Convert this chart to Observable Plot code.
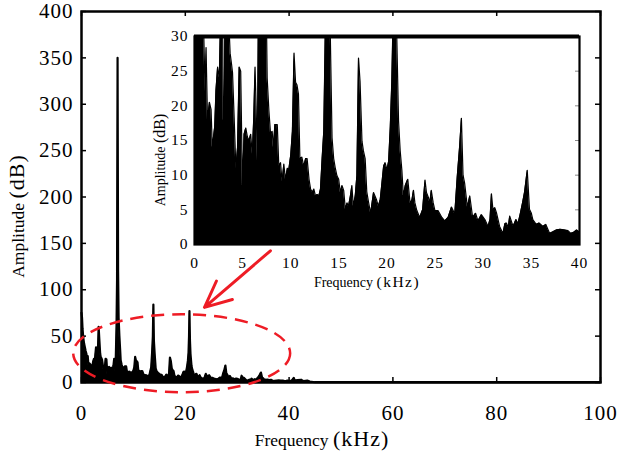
<!DOCTYPE html>
<html><head><meta charset="utf-8">
<script src="https://cdn.jsdelivr.net/npm/d3@7"></script>
<script src="https://cdn.jsdelivr.net/npm/@observablehq/plot@0.6"></script>
<style>
body{margin:0;background:#fff;}
#wrap{position:relative;width:620px;height:455px;overflow:hidden;}
#wrap svg{position:absolute;}
#wrap svg text{font-family:'Liberation Serif','Times New Roman',serif;}
[aria-label$="tick label"]{letter-spacing:1px;}
</style></head><body><div id="wrap"></div>
<script>
// Spectrum (frequency in kHz, amplitude in dB)
const freq = [0,0.1,0.2,0.35,0.5,0.65,0.8,0.95,1.1,1.2,1.35,1.55,1.72,1.85,1.96,2.1,2.23,2.4,2.58,2.68,2.8,2.92,3.0,3.1,3.16,3.3,3.45,3.6,3.7,3.85,3.95,4.12,4.3,4.47,4.64,4.8,4.98,5.15,5.33,5.5,5.67,5.84,6.0,6.15,6.29,6.4,6.53,6.63,6.75,6.85,6.95,7.05,7.15,7.3,7.45,7.55,7.73,7.9,8.07,8.2,8.35,8.6,8.76,8.94,9.1,9.28,9.45,9.65,9.8,10.0,10.17,10.34,10.5,10.65,10.8,10.95,11.15,11.35,11.55,11.7,11.9,12.06,12.25,12.4,12.57,12.75,12.92,13.09,13.26,13.43,13.6,13.75,13.85,13.95,14.1,14.29,14.46,14.63,14.8,14.98,15.15,15.32,15.5,15.67,15.85,16.0,16.2,16.35,16.5,16.7,16.87,17.04,17.2,17.4,17.55,17.73,17.9,18.07,18.3,18.6,18.9,19.1,19.3,19.45,19.65,19.8,20.0,20.17,20.34,20.5,20.62,20.72,20.8,20.9,21.0,21.2,21.37,21.54,21.7,21.9,22.16,22.4,22.6,22.75,22.9,23.1,23.4,23.7,23.95,24.1,24.3,24.45,24.6,24.8,24.98,25.3,25.5,25.7,26.0,26.35,26.7,27.04,27.3,27.55,27.73,27.9,28.07,28.35,28.6,28.9,29.2,29.45,29.8,30.17,30.5,30.7,30.85,31.0,31.2,31.37,31.7,32.05,32.25,32.4,32.6,32.75,33.1,33.4,33.6,33.8,34.1,34.3,34.57,34.8,35.0,35.15,35.5,35.8,36.2,36.5,36.9,37.2,37.6,38.0,38.4,38.8,39.1,39.45,39.7,40.0,40.5,40.9,41.1,41.6,42.3,42.8,43.5,44.0,45,100];
const amp = [75,70,58,48,42,38,34,31,22,28.4,18,20.5,19.5,14,15.3,17,22.2,25.6,24,31,38,32,17.8,20,33,60,45,31,27.6,26,24.8,18.3,10.9,14,25.6,25,8.5,15.9,16.8,15.5,15,15.9,13,18,25.6,20,12,32,62,110,350,120,70,50,35,24,19.3,16,16.3,14,17.3,17.3,11.3,11.8,9,11.6,9.4,11,10.8,12.9,16.3,27.6,23.4,23,21.7,12.4,12.6,11.3,12.4,12.4,9.4,8,7.5,8,7,7.2,7,8,12.4,16.3,32,50,84,45,31,15.4,12.4,11,9.9,9.4,7.5,8.5,7.8,5.1,6,5.5,7,8.5,5.5,7,9.9,26.9,23.5,14.9,13.5,12.4,7.6,6.2,4.5,7.5,6.5,5.5,6.5,8.5,11.3,11.8,10.8,12,16.9,23.5,32,50,77,45,31,17.8,13.5,10.8,7,8.5,9.4,5.9,6.5,7.8,6,4.9,3.9,5,9.3,7.5,6.8,6,7.8,6,4.9,4.9,4.4,3.9,3.4,3.9,5.4,4.4,9.8,14.2,18.2,10,8.8,5.4,7,3.9,4.5,3.4,4.3,3.6,2.6,3.6,7.3,5.1,5.3,4.6,2.6,1.6,3,3.1,2.5,4.1,2.6,3.6,3,4.1,6.1,7.6,10.7,5.1,4.5,3.6,2.9,3.1,2.6,2.9,1.6,1.8,2.1,2.2,2.1,2.0,1.6,1.8,2.1,1.8,2,5,2,2.5,3,1.5,2,1,0.3,0.3];

const mainXTicks = [0,20,40,60,80,100];
const mainYTicks = [0,50,100,150,200,250,300,350,400];
const insetXTicks = [0,5,10,15,20,25,30,35,40];
const insetYTicks = [0,5,10,15,20,25,30];

// Annotations (data units of the main chart)
const ellipseSpec = {cx: 19.4, cy: 31, rx: 20.9, ry: 42};
const arrowSpec = {x1: 36.4, y1: 142, x2: 23.7, y2: 81};

const data = freq.map((f, i) => ({f, a: amp[i]}));
const RED = "#ee1c25";
const FONT = "'Liberation Serif', 'Times New Roman', serif";

const main = Plot.plot({
  width: 620, height: 455,
  marginLeft: 81, marginRight: 20, marginTop: 11, marginBottom: 73,
  style: {fontFamily: FONT, background: "white", color: "black", overflow: "visible"},
  x: {domain: [0, 100], label: null},
  y: {domain: [0, 400], label: null},
  marks: [
    Plot.areaY(data, {x: "f", y: "a", fill: "black"}),
    Plot.lineY(data, {x: "f", y: "a", stroke: "black", strokeWidth: 2.2}),
    Plot.tickY(mainYTicks, {y: d => d, insetRight: 514, strokeWidth: 1.5}),
    Plot.tickY(mainYTicks, {y: d => d, insetLeft: 514, strokeWidth: 1.5}),
    Plot.tickX(mainXTicks, {x: d => d, insetTop: 366, strokeWidth: 1.5}),
    Plot.tickX(mainXTicks, {x: d => d, insetBottom: 366, strokeWidth: 1.5}),
    Plot.frame({strokeWidth: 2.5}),
    Plot.axisX(mainXTicks, {tickSize: 0, tickPadding: 23, fontSize: 21, label: null}),
    Plot.axisY(mainYTicks, {tickSize: 0, tickPadding: 8, fontSize: 21, label: null}),
    Plot.arrow([arrowSpec], {x1: "x1", y1: "y1", x2: "x2", y2: "y2", stroke: RED, strokeWidth: 3, headLength: 16, headAngle: 50})
  ]
});

const sx = main.scale("x"), sy = main.scale("y");
const msvg = d3.select(main);
msvg.append("ellipse")
  .attr("cx", sx.apply(ellipseSpec.cx))
  .attr("cy", sy.apply(ellipseSpec.cy))
  .attr("rx", sx.apply(ellipseSpec.cx + ellipseSpec.rx) - sx.apply(ellipseSpec.cx))
  .attr("ry", sy.apply(ellipseSpec.cy - ellipseSpec.ry) - sy.apply(ellipseSpec.cy))
  .attr("fill", "none").attr("stroke", RED).attr("stroke-width", 2.5)
  .attr("stroke-dasharray", "13 8");

const mx = msvg.append("text").attr("x", 322).attr("y", 446).attr("text-anchor", "middle")
  .attr("fill", "black");
mx.append("tspan").attr("font-size", 17.5).text("Frequency ");
mx.append("tspan").attr("font-size", 22).attr("letter-spacing", 1).text("(kHz)");

const my = msvg.append("text").attr("transform", "translate(24,216) rotate(-90)").attr("text-anchor", "middle")
  .attr("fill", "black");
my.append("tspan").attr("font-size", 17.5).text("Amplitude ");
my.append("tspan").attr("font-size", 22).attr("letter-spacing", 1).text("(dB)");

const inset = Plot.plot({
  width: 470, height: 285,
  marginLeft: 64, marginRight: 21, marginTop: 16, marginBottom: 61,
  style: {fontFamily: FONT, background: "transparent", color: "black", overflow: "visible"},
  x: {domain: [0, 40], label: null},
  y: {domain: [0, 30], label: null},
  marks: [
    Plot.areaY(data, {x: "f", y: "a", fill: "black", clip: true}),
    Plot.lineY(data, {x: "f", y: "a", stroke: "black", strokeWidth: 1.2, clip: true}),
    Plot.tickY(insetYTicks, {y: d => d, insetLeft: 381, stroke: "#888", strokeWidth: 1}),
    Plot.frame({strokeWidth: 2.2}),
    Plot.ruleY(insetYTicks.slice(-1), {strokeWidth: 4}),
    Plot.axisX(insetXTicks, {tickSize: 0, tickPadding: 12, fontSize: 15.5, label: null}),
    Plot.axisY(insetYTicks, {tickSize: 0, tickPadding: 6, fontSize: 15.5, label: null})
  ]
});
const isvg = d3.select(inset);
const ix = isvg.append("text").attr("x", 367 - 130).attr("y", 287 - 20).attr("text-anchor", "middle")
  .attr("fill", "black");
ix.append("tspan").attr("font-size", 14).text("Frequency ");
ix.append("tspan").attr("font-size", 15.5).attr("letter-spacing", 1.5).text("(kHz)");
const iy = isvg.append("text").attr("transform", `translate(${165 - 130},${160 - 20}) rotate(-90)`).attr("text-anchor", "middle")
  .attr("fill", "black");
iy.append("tspan").attr("font-size", 14).text("Amplitude ");
iy.append("tspan").attr("font-size", 16).text("(dB)");

const wrap = document.getElementById("wrap");
main.style.left = "0px"; main.style.top = "0px";
inset.style.left = "130px"; inset.style.top = "20px";
wrap.appendChild(main);
wrap.appendChild(inset);
</script></body></html>
